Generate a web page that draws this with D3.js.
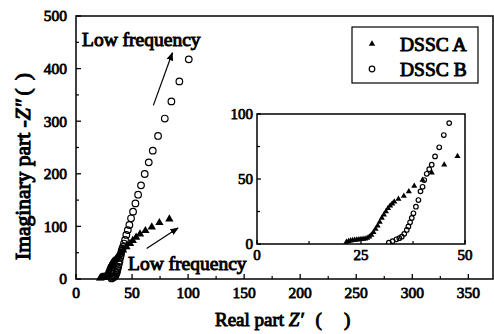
<!DOCTYPE html>
<html>
<head>
<meta charset="utf-8">
<script src="https://cdn.jsdelivr.net/npm/d3@7"></script>
<style>
  body { margin: 0; background: #fff; }
</style>
</head>
<body>
<div id="chart"></div>
<script>
// DSSC A (filled triangles), [Z', -Z'']
const dsscA = [
  [21.5,1.5],[22,2.2],[22.5,2.6],[23,2.9],[23.5,3.1],[24,3.3],[24.5,3.4],[25,3.6],
  [25.5,3.8],[26,4.1],[26.5,4.6],[27,5.5],[27.5,7],[28,9],[28.5,11.5],[29,14],
  [29.5,17],[30,20],[30.5,22.5],[31,25],[31.5,27.5],[32,29.5],[32.5,31],[33,32.5],
  [34,34.6],[35.3,36.9],[36.5,40.3],[37.8,44.6],[39.8,49.2],[42,54.9],[45,61],
  [48.2,67.5],[50.6,73],[53.6,79.3],[57.1,85.6],[61.9,91.8],[67.6,98.9],[74.4,107],[83.3,114]
];
// DSSC B (open circles)
const dsscB = [
  [31.7,1],[32.6,2.2],[33.5,3.6],[34.2,4.5],[34.8,5.6],[35.4,7.8],[36,10.8],[36.4,13.5],
  [36.8,16.7],[37.2,20],[37.6,23.6],[38.2,28.7],[38.8,33.8],[39.3,40.5],[39.8,44],
  [40.2,49.2],[40.8,54],[41.4,57.5],[42,61],[42.8,67.4],[43.8,74.4],[44.9,83.8],[46.2,93],
  [47.6,102.7],[49.1,115.4],[50.9,128],[53,143.7],[55.4,160.3],[58,178],[61.3,199.6],
  [64.9,221.8],[68.5,244],[73.2,272],[79.2,305],[85.1,337.6],[92.2,375.7],[100.6,417.6]
];
const mainXTicks = [0, 50, 100, 150, 200, 250, 300, 350];
const mainYTicks = [0, 100, 200, 300, 400, 500];
const insetXTicks = [0, 25, 50];
const insetYTicks = [0, 50, 100];
const legendNames = ["DSSC A", "DSSC B"];

const W = 494, H = 334;
const svg = d3.select("#chart").append("svg").attr("width", W).attr("height", H);

const M = {left: 76, top: 16, right: 493, bottom: 279};
const x = d3.scaleLinear().domain([0, 372]).range([M.left, M.right]);
const y = d3.scaleLinear().domain([0, 500]).range([M.bottom, M.top]);

const tri = d3.symbol().type(d3.symbolTriangle);

// serif text; bold face is not installed, so thicken with a thin stroke
function label(g, px, py, size, str, anchor = "start") {
  return g.append("text").attr("x", px).attr("y", py).attr("font-size", size)
    .style("font-family", '"Liberation Serif"')
    .attr("stroke", "#000").attr("stroke-width", size * 0.05)
    .attr("text-anchor", anchor).text(str);
}

function frame(g, xs, ys, xt, yt, xminor, yminor, fs, major, minor, xoff, yoff) {
  const [x0, x1] = xs.range(), [y0, y1] = ys.range();
  g.append("rect").attr("x", x0).attr("y", y1).attr("width", x1 - x0).attr("height", y0 - y1)
    .attr("fill", "none").attr("stroke", "#000").attr("stroke-width", 1.5);
  xt.forEach(v => g.append("line").attr("x1", xs(v)).attr("x2", xs(v)).attr("y1", y0).attr("y2", y0 - major).attr("stroke", "#000").attr("stroke-width", 1.3));
  xminor.forEach(v => g.append("line").attr("x1", xs(v)).attr("x2", xs(v)).attr("y1", y0).attr("y2", y0 - minor).attr("stroke", "#000").attr("stroke-width", 1.2));
  yt.forEach(v => g.append("line").attr("x1", x0).attr("x2", x0 + major).attr("y1", ys(v)).attr("y2", ys(v)).attr("stroke", "#000").attr("stroke-width", 1.3));
  yminor.forEach(v => g.append("line").attr("x1", x0).attr("x2", x0 + minor).attr("y1", ys(v)).attr("y2", ys(v)).attr("stroke", "#000").attr("stroke-width", 1.2));
  xt.forEach(v => label(g, xs(v), y0 + xoff, fs, v, "middle"));
  yt.forEach(v => label(g, x0 - yoff, ys(v) + fs * 0.35, fs, v, "end"));
}

function points(g, xs, ys, triSize, r) {
  g.selectAll(null).data(dsscB).enter().append("circle")
    .attr("cx", d => xs(d[0])).attr("cy", d => ys(d[1])).attr("r", r)
    .attr("fill", "none").attr("stroke", "#000").attr("stroke-width", 1.2);
  g.selectAll(null).data(dsscA).enter().append("path")
    .attr("d", tri.size(triSize)())
    .attr("transform", d => `translate(${xs(d[0])},${ys(d[1])})`).attr("fill", "#000");
}

// main
const main = svg.append("g");
frame(main, x, y, mainXTicks, mainYTicks,
  d3.range(25, 372, 50), d3.range(50, 500, 100), 15.5, 5, 3, 19, 9);
points(main, x, y, 30, 3.3);

// axis titles
const xt = label(svg, 215, 326, 19, null);
xt.append("tspan").text("Real part ");
xt.append("tspan").attr("font-style", "italic").text("Z′");
xt.append("tspan").attr("dx", 12).text("(");
xt.append("tspan").attr("dx", 22).text(")");

const yt = label(svg, 0, 0, 21.5, null).attr("transform", "translate(30,260) rotate(-90)");
yt.append("tspan").text("Imaginary part -");
yt.append("tspan").attr("font-style", "italic").text("Z″");
yt.append("tspan").attr("dx", 4).text("(");
yt.append("tspan").attr("dx", 8).text(")");

// annotations
svg.append("defs").append("marker").attr("id", "ah").attr("viewBox", "0 0 10 10")
  .attr("refX", 9).attr("refY", 5).attr("markerWidth", 7).attr("markerHeight", 7)
  .attr("orient", "auto").append("path").attr("d", "M0,1L10,5L0,9z").attr("fill", "#000");
label(svg, 82, 46, 19.5, "Low frequency");
svg.append("line").attr("x1", x(69)).attr("y1", y(330)).attr("x2", x(86)).attr("y2", y(430))
  .attr("stroke", "#000").attr("stroke-width", 1.2).attr("marker-end", "url(#ah)");
label(svg, 128, 270, 19.5, "Low frequency");
svg.append("line").attr("x1", x(63)).attr("y1", y(58)).attr("x2", x(91)).attr("y2", y(97))
  .attr("stroke", "#000").attr("stroke-width", 1.2).attr("marker-end", "url(#ah)");

// legend
const lg = svg.append("g");
lg.append("rect").attr("x", 352).attr("y", 27).attr("width", 126).attr("height", 56)
  .attr("fill", "#fff").attr("stroke", "#000").attr("stroke-width", 1.2);
legendNames.forEach((n, i) => {
  const cy = 44 + i * 25;
  if (i === 0) lg.append("path").attr("d", tri.size(18)()).attr("transform", `translate(372,${cy})`);
  else lg.append("circle").attr("cx", 372).attr("cy", cy).attr("r", 2.8).attr("fill", "none").attr("stroke", "#000").attr("stroke-width", 1.2);
  label(lg, 400, cy + 6.5, 19.5, n);
});

// inset
const ix = d3.scaleLinear().domain([0, 50]).range([257, 465]);
const iy = d3.scaleLinear().domain([0, 100]).range([244, 114]);
const inset = svg.append("g");
inset.append("rect").attr("x", 257).attr("y", 114).attr("width", 208).attr("height", 130).attr("fill", "#fff");
svg.append("clipPath").attr("id", "ic").append("rect").attr("x", 257).attr("y", 114).attr("width", 208).attr("height", 130);
frame(inset, ix, iy, insetXTicks, insetYTicks, [12.5, 37.5], [25, 75], 15, 4, 3, 16, 4);
points(inset.append("g").attr("clip-path", "url(#ic)"), ix, iy, 16, 2.3);
</script>
</body>
</html>
